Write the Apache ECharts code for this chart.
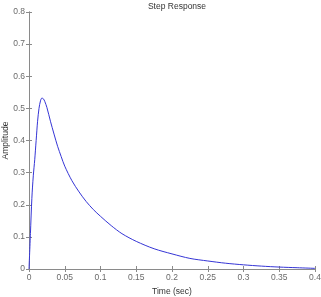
<!DOCTYPE html>
<html><head><meta charset="utf-8">
<script src="https://cdn.jsdelivr.net/npm/echarts@6/dist/echarts.min.js"></script>
<style>html,body{margin:0;padding:0;background:#fff}#c{width:321px;height:297px}</style>
</head><body><div id="c"></div>
<script>
const timeValues = [0, 0.002, 0.004, 0.006, 0.008, 0.010, 0.012, 0.014, 0.016, 0.018, 0.020, 0.022, 0.025, 0.030, 0.035, 0.040, 0.045, 0.050, 0.060, 0.070, 0.080, 0.090, 0.100, 0.115, 0.130, 0.150, 0.175, 0.200, 0.225, 0.250, 0.275, 0.300, 0.325, 0.350, 0.375, 0.400];
const amplitudeValues = [0, 0.11, 0.22, 0.29, 0.34, 0.40, 0.46, 0.50, 0.523, 0.532, 0.53, 0.522, 0.503, 0.46, 0.42, 0.382, 0.35, 0.32, 0.275, 0.24, 0.21, 0.185, 0.164, 0.135, 0.11, 0.086, 0.063, 0.047, 0.033, 0.025, 0.018, 0.013, 0.009, 0.006, 0.004, 0.002];
const titleText = 'Step Response';
const xName = 'Time (sec)';
const yName = 'Amplitude';

const font = 'Liberation Sans';
const axisGray = '#8a8a8a';
const labelGray = '#6a6a6a';
const chart = echarts.init(document.getElementById('c'), null, {renderer: 'canvas'});
const inTick = () => ({show: true, inside: true, length: 3, lineStyle: {color: axisGray}});
chart.setOption({
  animation: false,
  backgroundColor: '#fff',
  title: {text: titleText, left: 172, top: -3, textAlign: 'center',
    textStyle: {fontFamily: font, fontSize: 8.5, fontWeight: 'normal', color: '#333'}},
  grid: {left: 29, right: 6, top: 12, bottom: 28, containLabel: false, outerBoundsMode: 'none'},
  xAxis: [{
    type: 'value', min: 0, max: 0.4, interval: 0.05, position: 'bottom',
    name: xName, nameLocation: 'middle', nameGap: 18, nameMoveOverlap: false,
    nameTextStyle: {fontFamily: font, fontSize: 8.5, color: '#333'},
    axisLine: {show: true, lineStyle: {color: axisGray}},
    axisTick: inTick(), splitLine: {show: false},
    axisLabel: {fontFamily: font, fontSize: 8.5, color: labelGray, margin: 4, hideOverlap: false,
      formatter: v => String(+v.toFixed(2))}
  }, {
    type: 'value', min: 0, max: 0.4, interval: 0.05, position: 'top',
    axisLine: {show: true, lineStyle: {color: axisGray}},
    axisTick: inTick(), axisLabel: {show: false}, splitLine: {show: false}
  }],
  yAxis: [{
    type: 'value', min: 0, max: 0.8, interval: 0.1, position: 'left',
    name: yName, nameLocation: 'middle', nameGap: 19, nameRotate: 90, nameMoveOverlap: false,
    nameTextStyle: {fontFamily: font, fontSize: 8.5, color: '#333'},
    axisLine: {show: true, lineStyle: {color: axisGray}},
    axisTick: inTick(), splitLine: {show: false},
    axisLabel: {fontFamily: font, fontSize: 8.5, color: labelGray, margin: 4,
      formatter: v => String(+v.toFixed(1))}
  }, {
    type: 'value', min: 0, max: 0.8, interval: 0.1, position: 'right',
    axisLine: {show: true, lineStyle: {color: axisGray}},
    axisTick: inTick(), axisLabel: {show: false}, splitLine: {show: false}
  }],
  series: [{
    type: 'line', xAxisIndex: 0, yAxisIndex: 0,
    data: timeValues.map((t, i) => [t, amplitudeValues[i]]),
    smooth: 0.3, showSymbol: false,
    lineStyle: {color: '#3535d5', width: 1}
  }]
});
</script></body></html>
